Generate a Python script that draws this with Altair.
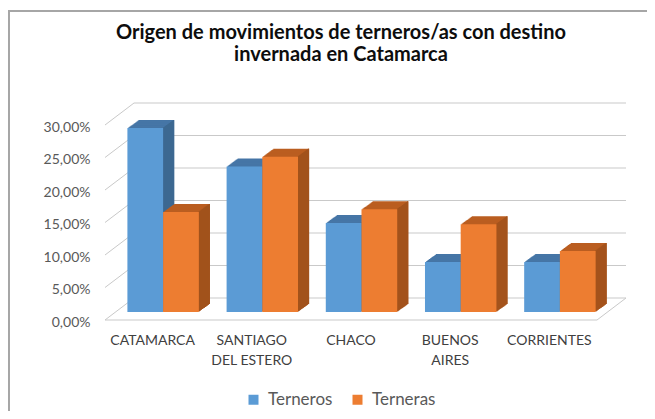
import altair as alt
import pandas as pd

# ---- data ----
categories = ["CATAMARCA", "SANTIAGO\nDEL ESTERO", "CHACO", "BUENOS\nAIRES", "CORRIENTES"]
series_names = ["Terneros", "Terneras"]
terneros = [28.3, 22.4, 13.7, 7.7, 7.7]
terneras = [15.4, 23.9, 15.8, 13.5, 9.4]
tick_values = [0, 5, 10, 15, 20, 25, 30]
title_lines = ["Origen de movimientos de terneros/as con destino", "invernada en Catamarca"]

# ---- style / geometry ----
W, H = 492, 195
PL, PT = 97, 117
TOTAL_W, TOTAL_H = 639, 403
DEPTH_X, DEPTH_Y = 29, -22          # floor / wall depth
BAR_FX, BAR_FY = 10.5, -8           # bar front face shift
STEPS = 11                          # bar extrusion (pixels)
STEP_DY = -8 / STEPS
PAD_IN, PAD_OUT = 0.28, 0.12
step = W / (len(categories) - PAD_IN + 2 * PAD_OUT)
bw = step * (1 - PAD_IN)

COL = {"Terneros": "#5B9BD5", "Terneras": "#ED7D31"}
TOP = {"Terneros": "#4676A6", "Terneras": "#BA5E21"}
SIDE = {"Terneros": "#3D6892", "Terneras": "#A2521C"}
GRID = "#C9C9C9"
FONT = "Lato"

rows = []
for c, a, b in zip(categories, terneros, terneras):
    rows.append({"category": c, "series": "Terneros", "value": a})
    rows.append({"category": c, "series": "Terneras", "value": b})
df = pd.DataFrame(rows)
ticks_df = pd.DataFrame({"t": tick_values})

yscale = alt.Scale(domain=[0, 30], nice=False, zero=True)
xscale = alt.Scale(domain=categories, paddingInner=PAD_IN, paddingOuter=PAD_OUT)
yaxis = alt.Axis(values=tick_values, grid=False, domain=False, ticks=False,
                 labelPadding=15, labelOffset=2, labelFont=FONT, labelFontSize=14, labelColor="#595959",
                 labelExpr="replace(format(datum.value, '.2f'), '.', ',') + '%'", title=None)
xaxis = alt.Axis(grid=False, domain=False, ticks=False, labelAngle=0, labelPadding=13,
                 labelFont=FONT, labelFontSize=14, labelColor="#404040", labelLineHeight=20,
                 labelBaseline="top", labelExpr="split(datum.label, '\\n')", title=None)


def bar(s, dx, dy, color, width=None, legend=False):
    kw = dict(xOffset=dx, x2Offset=dx, yOffset=dy, y2Offset=dy, strokeWidth=0)
    if width is not None:
        kw["width"] = width
    enc = dict(
        x=alt.X("category:N", sort=categories, scale=xscale, axis=xaxis),
        y=alt.Y("value:Q", scale=yscale, axis=yaxis),
    )
    if legend:
        enc["color"] = alt.Color("series:N", scale=alt.Scale(domain=series_names,
                                 range=[COL[n] for n in series_names]),
                                 legend=alt.Legend(title=None, orient="none", direction="horizontal",
                                                   legendX=140, legendY=266, symbolType="square",
                                                   symbolSize=100, symbolStrokeWidth=0,
                                                   labelFont=FONT, labelFontSize=17,
                                                   labelColor="#595959", columnPadding=16,
                                                   labelOffset=6))
    else:
        enc["color"] = alt.value(color)
    return alt.Chart(df).transform_filter(alt.datum.series == s).mark_bar(**kw).encode(**enc)


layers = []

# chart-area border
layers.append(alt.Chart(ticks_df).mark_rule(color="#A6A6A6", strokeWidth=1.5).encode(
    x=alt.value(-96.3), x2=alt.value(560), y=alt.value(-114.3)))
layers.append(alt.Chart(ticks_df).mark_rule(color="#A6A6A6", strokeWidth=1.5).encode(
    x=alt.value(-96.3), y=alt.value(-115), y2=alt.value(300)))

# title (two lines)
for i, line in enumerate(title_lines):
    layers.append(alt.Chart(pd.DataFrame({"line": [line]})).mark_text(
        font=FONT, fontSize=20, fontWeight="bold", color="#0D0D0D", align="center",
        baseline="alphabetic").encode(
        x=alt.value(236), y=alt.value(-86 + 22 * i), text="line:N"))

# left wall diagonals
layers.append(alt.Chart(ticks_df).mark_rule(color=GRID, strokeWidth=1, y2Offset=DEPTH_Y).encode(
    x=alt.value(0), x2=alt.value(DEPTH_X),
    y=alt.Y("t:Q", scale=yscale, axis=yaxis), y2=alt.Y2("t:Q")))
# back wall gridlines
layers.append(alt.Chart(ticks_df).mark_rule(color=GRID, strokeWidth=1, yOffset=DEPTH_Y, y2Offset=DEPTH_Y).encode(
    x=alt.value(DEPTH_X), x2=alt.value(W + DEPTH_X),
    y=alt.Y("t:Q", scale=yscale, axis=yaxis), y2=alt.Y2("t:Q")))
# floor front and right edges
layers.append(alt.Chart(ticks_df).transform_filter(alt.datum.t == 0).mark_rule(color=GRID, strokeWidth=1).encode(
    x=alt.value(0), x2=alt.value(W), y=alt.Y("t:Q", scale=yscale, axis=yaxis)))
layers.append(alt.Chart(ticks_df).transform_filter(alt.datum.t == 0).mark_rule(
    color=GRID, strokeWidth=1, y2Offset=DEPTH_Y).encode(
    x=alt.value(W), x2=alt.value(W + DEPTH_X),
    y=alt.Y("t:Q", scale=yscale, axis=yaxis), y2=alt.Y2("t:Q")))

# 3D bars
for si, s in enumerate(series_names):
    base_dx = (-bw / 4 if si == 0 else bw / 4) + BAR_FX
    right_dx = (0 if si == 0 else bw / 2) + BAR_FX
    for k in range(STEPS, 0, -1):
        layers.append(bar(s, base_dx + k, BAR_FY + STEP_DY * k, TOP[s], width=alt.RelativeBandSize(band=0.5)))
    for k in range(1, STEPS + 1):
        layers.append(bar(s, right_dx + k - 0.5, BAR_FY + STEP_DY * k, SIDE[s], width=1.3))
    layers.append(bar(s, base_dx, BAR_FY, COL[s], width=alt.RelativeBandSize(band=0.5), legend=True))

chart = alt.layer(*layers).properties(
    width=W, height=H,
    background="white",
    autosize=alt.AutoSizeParams(type="none"),
    padding={"left": PL, "top": PT, "right": TOTAL_W - PL - W, "bottom": TOTAL_H - PT - H},
).configure_view(strokeWidth=0, stroke="transparent")

chart.save("out.html", embed_options={"renderer": "svg", "actions": False})
